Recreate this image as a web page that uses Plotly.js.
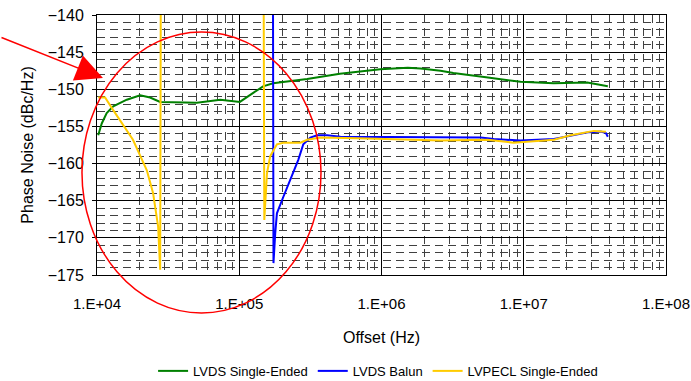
<!DOCTYPE html>
<html>
<head>
<meta charset="utf-8">
<script src="https://cdn.plot.ly/plotly-3.0.1.min.js"></script>
<style>html,body{margin:0;padding:0;background:#fff;}#chart{width:691px;height:381px;}</style>
</head>
<body>
<div id="chart"></div>
<script>
// ---- data ----
const greenName = "LVDS Single-Ended";
const greenFreq = [1.02e4, 1.08e4, 1.17e4, 1.30e4, 1.62e4, 2.01e4, 2.36e4, 2.78e4, 5.04e4, 7.36e4, 1.01e5, 1.47e5, 1.73e5, 3.0e5, 5.1e5, 9.8e5, 1.53e6, 1.88e6, 2.6e6, 3.2e6, 5.6e6, 9.5e6, 1.62e7, 2.8e7, 3.9e7];
const greenNoise = [-156.2, -154.6, -153.2, -152.3, -151.4, -150.8, -151.1, -151.7, -151.8, -151.4, -151.7, -149.6, -149.2, -148.6, -147.9, -147.3, -147.1, -147.2, -147.5, -147.8, -148.4, -149.0, -149.2, -149.1, -149.6];

const blueName = "LVDS Balun";
const blueFreq = [1.72e5, 1.74e5, 1.79e5, 1.84e5, 2.04e5, 2.29e5, 2.60e5, 2.82e5, 3.16e5, 3.53e5, 4.15e5, 5.14e5, 8.79e5, 1.52e6, 2.6e6, 3.21e6, 4.98e6, 6.15e6, 9.5e6, 1.63e7, 2.82e7, 3.48e7, 3.78e7, 3.9e7];
const blueNoise = [-120, -173.4, -169.4, -166.7, -164.5, -162.2, -159.5, -157.4, -156.5, -156.2, -156.2, -156.4, -156.4, -156.5, -156.5, -156.5, -156.5, -156.7, -156.9, -156.7, -155.8, -155.7, -155.9, -156.4];

const yellowName = "LVPECL Single-Ended";
const yellowFreq = [1.02e4, 1.14e4, 1.30e4, 1.52e4, 1.79e4, 2.24e4, 2.48e4, 2.69e4, 2.78e4, 2.82e4, 1.476e5, 1.50e5, 1.567e5, 1.65e5, 1.84e5, 2.04e5, 2.69e5, 3.0e5, 3.72e5, 6.74e5, 1.16e6, 2.6e6, 5.57e6, 8.5e6, 1.63e7, 2.14e7, 3.11e7, 3.78e7];
const yellowNoise = [-151.1, -151.1, -152.8, -154.8, -156.8, -160.9, -164.0, -168.5, -174.3, -120, -120, -167.6, -161.3, -159.0, -157.4, -157.2, -157.2, -156.8, -156.5, -156.6, -156.7, -156.9, -156.8, -157.2, -156.8, -156.2, -155.6, -155.7];

const xTickVals = [1e4, 1e5, 1e6, 1e7, 1e8];
const xTickText = ["1.E+04", "1.E+05", "1.E+06", "1.E+07", "1.E+08"];
const yTickVals = [-140, -145, -150, -155, -160, -165, -170, -175];

// ---- chart ----
const FONT = "Liberation Sans, Arial, sans-serif";
const traces = [
  {x: greenFreq, y: greenNoise, name: greenName, type: "scatter", mode: "lines", line: {color: "#008000", width: 2}},
  {x: blueFreq, y: blueNoise, name: blueName, type: "scatter", mode: "lines", line: {color: "#0000FF", width: 2}},
  {x: yellowFreq, y: yellowNoise, name: yellowName, type: "scatter", mode: "lines", line: {color: "#FFCC00", width: 2}}
];

const minorGrid = {showgrid: true, gridcolor: "#404040", gridwidth: 1, griddash: "8px,5px"};

const layout = {
  width: 691, height: 381,
  margin: {l: 97, r: 25, t: 15, b: 106, pad: 0, autoexpand: false},
  paper_bgcolor: "#fff", plot_bgcolor: "#fff",
  font: {family: FONT, color: "#000", size: 15},
  showlegend: true,
  legend: {orientation: "h", x: 0.494, xanchor: "center", y: -0.369, yanchor: "middle",
           font: {family: FONT, size: 13, color: "#000"}, bgcolor: "rgba(0,0,0,0)", tracegroupgap: 0},
  xaxis: {
    type: "log", range: [4, 8], automargin: false,
    tickmode: "array", tickvals: xTickVals, ticktext: xTickText,
    ticks: "outside", ticklen: 15, tickcolor: "rgba(0,0,0,0)",
    tickfont: {family: FONT, size: 15, color: "#000"},
    showgrid: true, gridcolor: "#000", gridwidth: 1,
    minor: Object.assign({dtick: "D1"}, minorGrid),
    showline: true, linecolor: "#000", linewidth: 1, mirror: true,
    zeroline: false,
    title: {text: "Offset (Hz)", font: {family: FONT, size: 16, color: "#000"}, standoff: 20}
  },
  yaxis: {
    range: [-175, -140], automargin: false,
    tickmode: "array", tickvals: yTickVals,
    ticks: "outside", ticklen: 4, tickcolor: "#000", ticklabelstandoff: 5,
    tickfont: {family: FONT, size: 16, color: "#000"},
    showgrid: true, gridcolor: "#000", gridwidth: 1,
    minor: Object.assign({dtick: 1}, minorGrid),
    showline: true, linecolor: "#000", linewidth: 1, mirror: true,
    zeroline: false,
    title: {text: "Phase Noise (dBc/Hz)", font: {family: FONT, size: 16, color: "#000"}, standoff: 10}
  },
  shapes: [
    {type: "circle", xref: "paper", yref: "paper",
     x0: -0.0264, x1: 0.3937, y0: -0.146, y1: 0.9346,
     line: {color: "#FF0000", width: 1.5}, layer: "above"}
  ],
  annotations: [
    {xref: "paper", yref: "paper", x: 0.0105, y: 0.758, text: "", showarrow: true,
     ax: -103, ay: -41, arrowhead: 2, arrowsize: 3.6, arrowwidth: 1.5, arrowcolor: "#FF0000"}
  ]
};

Plotly.newPlot("chart", traces, layout, {displayModeBar: false, staticPlot: true});
</script>
</body>
</html>
